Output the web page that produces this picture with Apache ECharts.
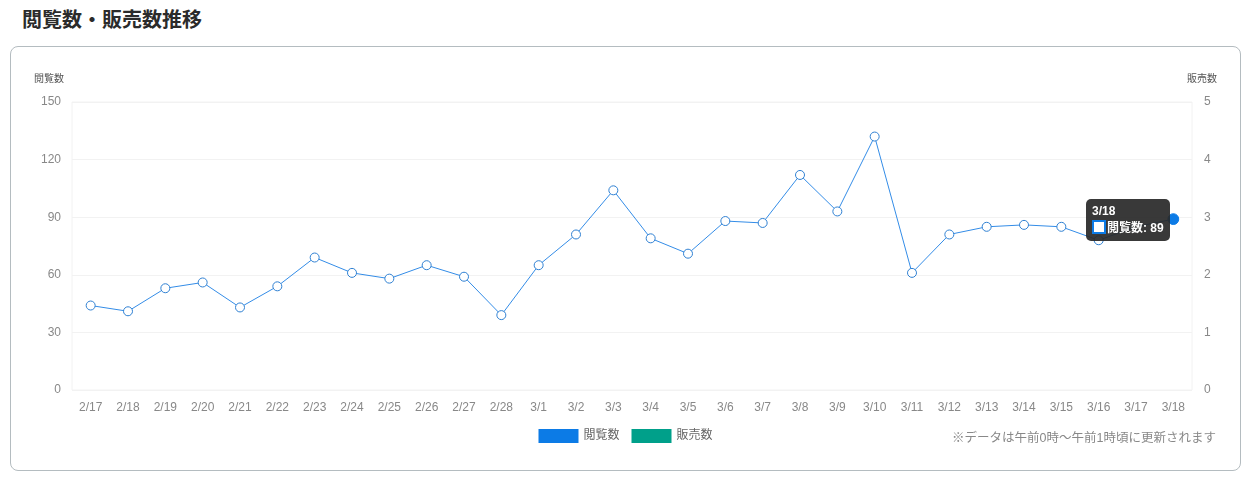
<!DOCTYPE html>
<html>
<head>
<meta charset="utf-8">
<script src="https://cdn.jsdelivr.net/npm/echarts@6/dist/echarts.min.js"></script>
<style>
  body { margin: 0; background: #fff; font-family: "Noto Sans CJK JP", "Noto Sans", sans-serif; }
  .title { position: absolute; left: 22px; top: 5px; margin: 0; font-size: 20px; font-weight: bold; color: #2b2b2b; line-height: 28px; }
  .box { position: absolute; left: 10px; top: 46px; width: 1229px; height: 423px; border: 1px solid #b4bcc0; border-radius: 8px; }
  #chart { width: 1229px; height: 423px; }
</style>
</head>
<body>
<h2 class="title">閲覧数・販売数推移</h2>
<div class="box"><div id="chart"></div></div>
<script>
// データ
const dates = ['2/17','2/18','2/19','2/20','2/21','2/22','2/23','2/24','2/25','2/26','2/27','2/28',
  '3/1','3/2','3/3','3/4','3/5','3/6','3/7','3/8','3/9','3/10','3/11','3/12','3/13','3/14','3/15','3/16','3/17','3/18']
const views = [44, 41, 53, 56, 43, 54, 69, 61, 58, 65, 59, 39,
  65, 81, 104, 79, 71, 88, 87, 112, 93, 132, 61, 81, 85, 86, 85, 78, 85, 89]
const sales = [0, 0, 0, 0, 0, 0, 0, 0, 0, 0, 0, 0,
  0, 0, 0, 0, 0, 0, 0, 0, 0, 0, 0, 0, 0, 0, 0, 0, 0, 0]
const leftTicks = { min: 0, max: 150, interval: 30 }
const rightTicks = { min: 0, max: 5, interval: 1 }

const font = '"Liberation Sans", "Noto Sans CJK JP", sans-serif'
const chart = echarts.init(document.getElementById('chart'))
chart.setOption({
  animation: false,
  textStyle: { fontFamily: font },
  grid: { left: 61, right: 48, top: 55, bottom: 80, show: true, borderColor: '#f2f2f2', borderWidth: 1 },
  legend: {
    data: [
      { name: '閲覧数', itemStyle: { color: '#0c7be6', borderWidth: 0 } },
      { name: '販売数', itemStyle: { color: '#00a08a', borderWidth: 0 } }
    ],
    bottom: 22,
    left: 'center',
    icon: 'rect',
    itemWidth: 40,
    itemHeight: 14,
    itemGap: 12,
    textStyle: { color: '#666', fontSize: 12 }
  },
  tooltip: {
    trigger: 'item',
    backgroundColor: 'rgba(40,40,40,0.92)',
    borderWidth: 0,
    padding: [4, 6],
    extraCssText: 'border-radius:5px;box-shadow:none;',
    position: function () { return [1075, 152] },
    formatter: function (p) {
      return '<div style="color:#fff;font-weight:bold;font-size:12px;line-height:17px">' + p.name + '</div>' +
        '<div style="color:#fff;font-weight:bold;font-size:12px;line-height:17px">' +
        '<span style="display:inline-block;width:10px;height:10px;background:#fff;border:2px solid #0c7be6;vertical-align:-2px;margin-right:1px"></span>' +
        p.seriesName + ': ' + p.value + '</div>'
    }
  },
  graphic: [{
    type: 'text',
    right: 24,
    bottom: 25,
    style: { text: '※データは午前0時〜午前1時頃に更新されます', fill: '#888', fontSize: 12.5, fontFamily: font }
  }],
  xAxis: {
    type: 'category',
    data: dates,
    axisLine: { show: false },
    axisTick: { show: false },
    axisLabel: { color: '#888', fontSize: 12, margin: 12, interval: 0 }
  },
  yAxis: [
    {
      type: 'value',
      name: '閲覧数',
      nameGap: 18,
      nameTextStyle: { color: '#555', fontSize: 10, align: 'center', padding: [0, 0, 0, -46] },
      min: leftTicks.min, max: leftTicks.max, interval: leftTicks.interval,
      axisLabel: { color: '#888', fontSize: 12, margin: 11 },
      axisLine: { show: false },
      splitLine: { lineStyle: { color: '#f2f2f2' } }
    },
    {
      type: 'value',
      name: '販売数',
      nameGap: 18,
      nameTextStyle: { color: '#555', fontSize: 10, align: 'center', padding: [0, 0, 0, 20] },
      min: rightTicks.min, max: rightTicks.max, interval: rightTicks.interval,
      axisLabel: { color: '#888', fontSize: 12, margin: 12 },
      axisLine: { show: false },
      splitLine: { show: false }
    }
  ],
  series: [
    {
      name: '閲覧数',
      type: 'line',
      data: views,
      color: '#0c7be6',
      symbol: 'circle',
      symbolSize: 9,
      showAllSymbol: true,
      lineStyle: { width: 1, color: '#2f80d2' },
      itemStyle: { color: '#fff', borderColor: '#2f80d2', borderWidth: 1 },
      emphasis: {
        scale: 1.2,
        itemStyle: { color: '#0c7be6', borderColor: '#0c7be6' },
        lineStyle: { width: 1 }
      }
    },
    {
      name: '販売数',
      type: 'bar',
      yAxisIndex: 1,
      data: sales,
      color: '#00a08a',
      itemStyle: { color: '#00a08a' }
    }
  ]
})
chart.dispatchAction({ type: 'highlight', seriesIndex: 0, dataIndex: 29 })
chart.dispatchAction({ type: 'showTip', seriesIndex: 0, dataIndex: 29 })
</script>
</body>
</html>
